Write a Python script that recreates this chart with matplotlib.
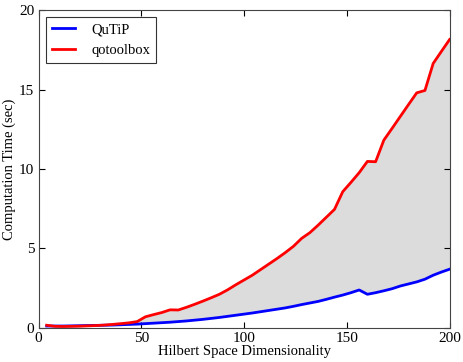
import numpy as np
import matplotlib
matplotlib.use("Agg")
import matplotlib.pyplot as plt

plt.rcParams['font.family'] = ['Liberation Serif', 'DejaVu Serif']
plt.rcParams['font.size'] = 10.5

# -----------------------------
# DATA
# -----------------------------
dims = list(range(4, 201, 4))

qutip = [0.10, 0.10, 0.10, 0.11, 0.12, 0.13, 0.14, 0.15, 0.16, 0.18,
         0.20, 0.22, 0.25, 0.28, 0.31, 0.34, 0.38, 0.42, 0.47, 0.52,
         0.58, 0.64, 0.71, 0.78, 0.85, 0.92, 1.00, 1.08, 1.16, 1.24,
         1.34, 1.45, 1.55, 1.65, 1.78, 1.92, 2.05, 2.20, 2.37, 2.10,
         2.20, 2.32, 2.45, 2.62, 2.75, 2.88, 3.05, 3.30, 3.50, 3.68]

qotoolbox = [0.15, 0.08, 0.07, 0.08, 0.09, 0.11, 0.13, 0.16, 0.20, 0.25,
             0.30, 0.38, 0.68, 0.82, 0.95, 1.12, 1.11, 1.28, 1.47, 1.67,
             1.88, 2.10, 2.38, 2.70, 3.00, 3.30, 3.65, 4.00, 4.35, 4.72,
             5.12, 5.62, 5.98, 6.45, 6.95, 7.45, 8.56, 9.15, 9.76, 10.47,
             10.45, 11.81, 12.55, 13.30, 14.05, 14.79, 14.94, 16.64, 17.40, 18.15]

# -----------------------------
# PLOT
# -----------------------------
fig = plt.figure(figsize=(4.64, 3.62), dpi=100)
ax = fig.add_axes([0.083, 0.095, 0.886, 0.877])

ax.fill_between(dims, qutip, qotoolbox, color='#dcdcdc', linewidth=0)
ax.plot(dims, qutip, color='blue', lw=2, label='QuTiP')
ax.plot(dims, qotoolbox, color='red', lw=2, label='qotoolbox')

ax.set_xlim(0, 200)
ax.set_ylim(0, 20)
ax.set_xticks([0, 50, 100, 150, 200])
ax.set_yticks([0, 5, 10, 15, 20])
ax.tick_params(direction='in', top=True, right=True, length=4, pad=3, labelsize=11)
for s in ax.spines.values():
    s.set_color('#444444')

ax.set_xlabel('Hilbert Space Dimensionality', fontsize=10.5, labelpad=0)
ax.set_ylabel('Computation Time (sec)', fontsize=10.5, labelpad=2)

leg = ax.legend(loc='upper left', fancybox=False, handlelength=1.6,
                handletextpad=1.1, borderaxespad=0.5, fontsize=10.5)
leg.get_frame().set_edgecolor('black')
leg.get_frame().set_linewidth(0.8)

plt.savefig('out.png', dpi=100)
